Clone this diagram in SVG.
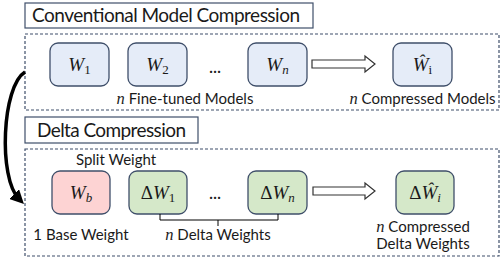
<svg xmlns="http://www.w3.org/2000/svg" width="504" height="258" viewBox="0 0 504 258">
<style>
.title{fill:#fff;stroke:#3F4F6A;stroke-width:1.2}
.dash{fill:none;stroke:#3F4F6A;stroke-width:1.2;stroke-dasharray:3 2}
.node{stroke:#3F4F6A;stroke-width:1.3}
.blue{fill:#E5ECF8}
.pink{fill:#FDD3D3}
.green{fill:#D5E8C9}
.t{font-family:Lato,"Open Sans","Liberation Sans",sans-serif;fill:#1a1a1a}
.m{font-family:"Liberation Serif","DejaVu Serif",serif;font-style:italic;fill:#1a1a1a}
.up{font-style:normal}
.hollow{fill:#fff;stroke:#333;stroke-width:1.2}
</style>
<defs>
<marker id="ah" markerWidth="4" markerHeight="4" refX="2" refY="2" orient="auto" markerUnits="strokeWidth">
<path d="M0,0 L4,2 L0,4 Z" fill="#000"/>
</marker>
</defs>

<!-- Section 1 -->
<g id="title1">
<rect class="title" x="25" y="3" width="288" height="25"/>
<text class="t" x="32" y="22" font-size="19" textLength="268">Conventional Model Compression</text>
</g>
<rect class="dash" x="25" y="34" width="474" height="76"/>

<g id="W1">
<rect class="node blue" x="50" y="43" width="59" height="43" rx="8"/>
<text class="m" x="79.5" y="71" font-size="19" text-anchor="middle">W<tspan class="up" font-size="13" dy="3">1</tspan></text>
</g>
<g id="W2">
<rect class="node blue" x="128" y="43" width="59" height="43" rx="8"/>
<text class="m" x="157.5" y="71" font-size="19" text-anchor="middle">W<tspan class="up" font-size="13" dy="3">2</tspan></text>
</g>
<text class="t" x="215" y="73" font-size="15" text-anchor="middle" font-weight="bold">…</text>
<g id="Wn">
<rect class="node blue" x="248" y="43" width="59" height="43" rx="8"/>
<text class="m" x="277.5" y="71" font-size="19" text-anchor="middle">W<tspan font-size="13" dy="3">n</tspan></text>
</g>
<g id="What">
<rect class="node blue" x="393" y="43" width="59" height="43" rx="8"/>
<text class="m" x="422.5" y="71" font-size="19" text-anchor="middle">Ŵ<tspan class="up" font-size="13" dy="3">i</tspan></text>
</g>
<text class="t" x="185" y="104" font-size="15" text-anchor="middle"><tspan class="m" font-size="16.5">n</tspan> Fine-tuned Models</text>
<text class="t" x="422.5" y="104" font-size="15" text-anchor="middle"><tspan class="m" font-size="16.5">n</tspan> Compressed Models</text>

<!-- Section 2 -->
<g id="title2">
<rect class="title" x="25" y="117" width="173" height="26"/>
<text class="t" x="37" y="137" font-size="19" textLength="149">Delta Compression</text>
</g>
<rect class="dash" x="25" y="149" width="474" height="107"/>

<text class="t" x="116" y="165" font-size="15" text-anchor="middle">Split Weight</text>

<g id="Wb">
<rect class="node pink" x="52" y="171" width="58" height="43" rx="8"/>
<text class="m" x="81" y="199" font-size="19" text-anchor="middle">W<tspan font-size="13" dy="3">b</tspan></text>
</g>
<g id="dW1">
<rect class="node green" x="129" y="171" width="58" height="43" rx="8"/>
<text class="m" x="158" y="199" font-size="19" text-anchor="middle"><tspan class="up">Δ</tspan>W<tspan class="up" font-size="13" dy="3">1</tspan></text>
</g>
<text class="t" x="215" y="199" font-size="15" text-anchor="middle" font-weight="bold">…</text>
<g id="dWn">
<rect class="node green" x="248" y="171" width="59" height="43" rx="8"/>
<text class="m" x="277.5" y="199" font-size="19" text-anchor="middle"><tspan class="up">Δ</tspan>W<tspan font-size="13" dy="3">n</tspan></text>
</g>
<g id="dWhat">
<rect class="node green" x="396" y="171" width="58" height="43" rx="8"/>
<text class="m" x="425" y="199" font-size="19" text-anchor="middle"><tspan class="up">Δ</tspan>Ŵ<tspan font-size="13" dy="3">i</tspan></text>
</g>

<text class="t" x="81" y="240" font-size="15" text-anchor="middle">1 Base Weight</text>
<text class="t" x="218" y="240" font-size="15" text-anchor="middle"><tspan class="m" font-size="16.5">n</tspan> Delta Weights</text>
<text class="t" x="423" y="231.5" font-size="15" text-anchor="middle"><tspan class="m" font-size="16.5">n</tspan> Compressed</text>
<text class="t" x="423" y="249" font-size="15" text-anchor="middle">Delta Weights</text>

<!-- connectors -->
<g id="connectors">
<path class="hollow" d="M312,60 L365,60 L365,56 L375,64 L365,72 L365,68 L312,68 Z"/>
<path class="hollow" d="M313,187 L365,187 L365,183 L375,191 L365,199 L365,195 L313,195 Z"/>
<path d="M160,214 V220 H278 V214 M218,220 V226" fill="none" stroke="#000" stroke-width="1"/>
<path d="M25,72 C2,86 -2,178 19,199" fill="none" stroke="#000" stroke-width="3.5" marker-end="url(#ah)"/>
</g>
</svg>
